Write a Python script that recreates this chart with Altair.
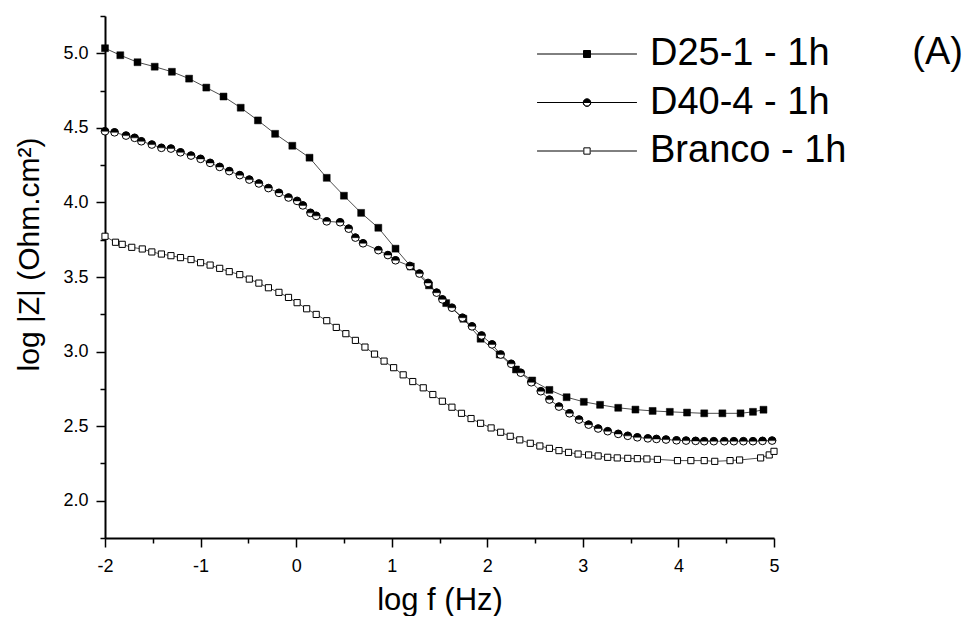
import altair as alt
import pandas as pd

# ---- data ----
series_names = ["D25-1 - 1h", "D40-4 - 1h", "Branco - 1h"]

d25_x = [-2.0, -1.84, -1.66, -1.48, -1.30, -1.12, -0.94, -0.76, -0.58, -0.40,
         -0.22, -0.04, 0.14, 0.32, 0.50, 0.68, 0.86, 1.04, 1.20, 1.39,
         1.57, 1.75, 1.93, 2.13, 2.30, 2.47, 2.65, 2.83, 3.01, 3.18,
         3.37, 3.55, 3.73, 3.91, 4.09, 4.27, 4.46, 4.65, 4.78, 4.89]
d25_y = [5.034, 4.987, 4.94, 4.91, 4.876, 4.83, 4.77, 4.71, 4.635, 4.55,
         4.46, 4.38, 4.30, 4.165, 4.045, 3.93, 3.83, 3.69, 3.57, 3.444,
         3.325, 3.22, 3.086, 2.98, 2.88, 2.806, 2.743, 2.694, 2.663, 2.643,
         2.623, 2.611, 2.602, 2.596, 2.591, 2.586, 2.586, 2.586, 2.596, 2.61]

d40_x = [-2.0, -1.90, -1.78, -1.69, -1.62, -1.51, -1.41, -1.31, -1.21, -1.10,
         -1.00, -0.90, -0.80, -0.70, -0.59, -0.49, -0.39, -0.29, -0.18, -0.08,
         0.01, 0.07, 0.15, 0.21, 0.32, 0.46, 0.55, 0.62, 0.70, 0.86,
         0.96, 1.04, 1.19, 1.29, 1.38, 1.47, 1.53, 1.63, 1.74, 1.84,
         1.94, 2.05, 2.14, 2.25, 2.35, 2.46, 2.56, 2.65, 2.75, 2.86,
         2.96, 3.06, 3.16, 3.26, 3.37, 3.47, 3.57, 3.68, 3.77, 3.87,
         3.98, 4.08, 4.18, 4.27, 4.37, 4.48, 4.58, 4.68, 4.78, 4.88, 4.98]
d40_y = [4.477, 4.47, 4.448, 4.433, 4.41, 4.388, 4.366, 4.361, 4.336, 4.314,
         4.292, 4.265, 4.238, 4.21, 4.183, 4.153, 4.127, 4.096, 4.064, 4.033,
         4.01, 3.98, 3.93, 3.91, 3.873, 3.867, 3.824, 3.764, 3.726, 3.68,
         3.647, 3.612, 3.574, 3.523, 3.46, 3.395, 3.35, 3.294, 3.227, 3.169,
         3.108, 3.048, 2.98, 2.918, 2.858, 2.794, 2.734, 2.678, 2.631, 2.586,
         2.544, 2.51, 2.484, 2.466, 2.448, 2.435, 2.425, 2.418, 2.414, 2.41,
         2.405, 2.403, 2.401, 2.399, 2.399, 2.399, 2.399, 2.399, 2.399, 2.401, 2.403]

br_x = [-2.0, -1.89, -1.82, -1.72, -1.61, -1.51, -1.41, -1.31, -1.21, -1.10,
        -1.00, -0.90, -0.80, -0.70, -0.59, -0.49, -0.39, -0.29, -0.18, -0.08,
        0.01, 0.11, 0.21, 0.32, 0.42, 0.52, 0.62, 0.72, 0.82, 0.92,
        1.02, 1.12, 1.22, 1.33, 1.43, 1.53, 1.63, 1.73, 1.83, 1.93,
        2.04, 2.14, 2.24, 2.34, 2.45, 2.55, 2.65, 2.75, 2.85, 2.95,
        3.06, 3.16, 3.26, 3.36, 3.47, 3.57, 3.67, 3.78, 3.99, 4.13,
        4.27, 4.38, 4.54, 4.64, 4.86, 4.95, 5.0]
br_y = [3.773, 3.733, 3.719, 3.699, 3.688, 3.668, 3.654, 3.643, 3.63, 3.617,
        3.596, 3.58, 3.558, 3.536, 3.516, 3.486, 3.459, 3.428, 3.397, 3.363,
        3.328, 3.287, 3.249, 3.207, 3.162, 3.12, 3.075, 3.03, 2.983, 2.936,
        2.892, 2.844, 2.799, 2.757, 2.712, 2.667, 2.627, 2.586, 2.551, 2.519,
        2.488, 2.459, 2.432, 2.408, 2.385, 2.367, 2.351, 2.336, 2.324, 2.313,
        2.307, 2.30, 2.291, 2.287, 2.284, 2.282, 2.28, 2.277, 2.269, 2.269,
        2.269, 2.264, 2.269, 2.273, 2.287, 2.307, 2.331]

x_ticks = [-2, -1.5, -1, -0.5, 0, 0.5, 1, 1.5, 2, 2.5, 3, 3.5, 4, 4.5, 5]
y_ticks = [1.75, 2.0, 2.25, 2.5, 2.75, 3.0, 3.25, 3.5, 3.75, 4.0, 4.25, 4.5, 4.75, 5.0, 5.25]

# ---- tables ----
df = pd.concat([
    pd.DataFrame({"series": series_names[0], "x": d25_x, "y": d25_y}),
    pd.DataFrame({"series": series_names[1], "x": d40_x, "y": d40_y}),
    pd.DataFrame({"series": series_names[2], "x": br_x, "y": br_y}),
], ignore_index=True)

FONT = "Liberation Sans"

X = alt.X("x:Q",
          scale=alt.Scale(domain=[-2, 5], nice=False, zero=False),
          axis=alt.Axis(values=x_ticks, title="log f (Hz)",
                        labelExpr="datum.value % 1 === 0 ? toString(datum.value) : ''",
                        tickSize={"condition": {"test": "datum.value % 1 === 0", "value": 9}, "value": 5},
                        grid=False, domainColor="black", domainWidth=2,
                        tickColor="black", tickWidth=1.5,
                        labelFontSize=18, labelPadding=10, labelColor="black",
                        titleFontSize=31, titlePadding=10, titleColor="black",
                        titleFontWeight="normal", labelFlush=False))
Y = alt.Y("y:Q",
          scale=alt.Scale(domain=[1.75, 5.25], nice=False, zero=False),
          axis=alt.Axis(values=y_ticks, title="log |Z| (Ohm.cm²)",
                        labelExpr="datum.value % 0.5 === 0 ? format(datum.value, '.1f') : ''",
                        tickSize={"condition": {"test": "datum.value % 0.5 === 0", "value": 9}, "value": 5},
                        grid=False, domainColor="black", domainWidth=2,
                        tickColor="black", tickWidth=1.5,
                        labelFontSize=18, labelPadding=8, labelColor="black",
                        titleFontSize=30, titlePadding=18, titleColor="black",
                        titleY=238,
                        titleFontWeight="normal", labelFlush=False))

base = alt.Chart(df)

lines = base.mark_line(color="black", strokeWidth=0.7).encode(x=X, y=Y, detail="series:N")

branco = base.transform_filter(alt.datum.series == series_names[2]).mark_point(
    shape="square", fill="white", stroke="black", strokeWidth=1, size=38, opacity=1, filled=False
).encode(x=X, y=Y)

d25 = base.transform_filter(alt.datum.series == series_names[0]).mark_point(
    shape="square", fill="black", stroke="black", strokeWidth=0.5, size=48, opacity=1, filled=True
).encode(x=X, y=Y)

d40_base = base.transform_filter(alt.datum.series == series_names[1])
d40_circle = d40_base.mark_point(
    shape="circle", fill="white", stroke="black", strokeWidth=1, size=58, opacity=1, filled=False
).encode(x=X, y=Y)
d40_top = d40_base.mark_point(
    shape="M-1 0A1 1 0 0 1 1 0Z", fill="black", stroke="black", strokeWidth=0.5,
    size=58, opacity=1, filled=True
).encode(x=X, y=Y)

# ---- legend (line segment with marker in the middle) ----
line_l = "M-3.33 0H-0.25M0.25 0H3.33"
sq_fill = line_l + "M-0.233 -0.233H0.233V0.233H-0.233Z"
half_c = (line_l + "M-0.25 0A0.25 0.25 0 0 1 0.25 0Z"
          "M-0.25 0A0.25 0.25 0 0 0 0.25 0A0.25 0.25 0 0 1 -0.25 0")
sq_open = line_l + "M-0.21 -0.21H0.21V0.21H-0.21Z"

legend_df = pd.DataFrame({"series": series_names})
leg = alt.Legend(orient="none", legendX=463, legendY=19, title=None,
                 labelFont=FONT, labelFontSize=38, labelColor="black",
                 symbolSize=900, symbolStrokeWidth=1,
                 symbolOpacity=1, labelOffset=44, rowPadding=10.5, padding=0,
                 labelLimit=400)
legend_layer = alt.Chart(legend_df).mark_point(filled=True, opacity=0, strokeWidth=1).encode(
    shape=alt.Shape("series:N", scale=alt.Scale(domain=series_names, range=[sq_fill, half_c, sq_open]), legend=leg),
    fill=alt.Fill("series:N", scale=alt.Scale(domain=series_names, range=["black", "black", "white"]), legend=leg),
    stroke=alt.Stroke("series:N", scale=alt.Scale(domain=series_names, range=["black", "black", "black"]), legend=leg),
)

chart = alt.layer(lines, branco, d25, d40_circle, d40_top, legend_layer).properties(
    width=669, height=522,
    autosize=alt.AutoSizeParams(type="none"),
    padding={"left": 97, "top": 8, "right": 190, "bottom": 78},
    title=alt.TitleParams("(A)", anchor="end", frame="group", font=FONT, fontSize=38,
                          fontWeight="normal", color="black", dx=189, dy=61, orient="top"),
).configure_view(stroke=None).configure_axis(
    labelFont=FONT, titleFont=FONT
)

chart.save("out.html", embed_options={"renderer": "svg", "actions": False})
